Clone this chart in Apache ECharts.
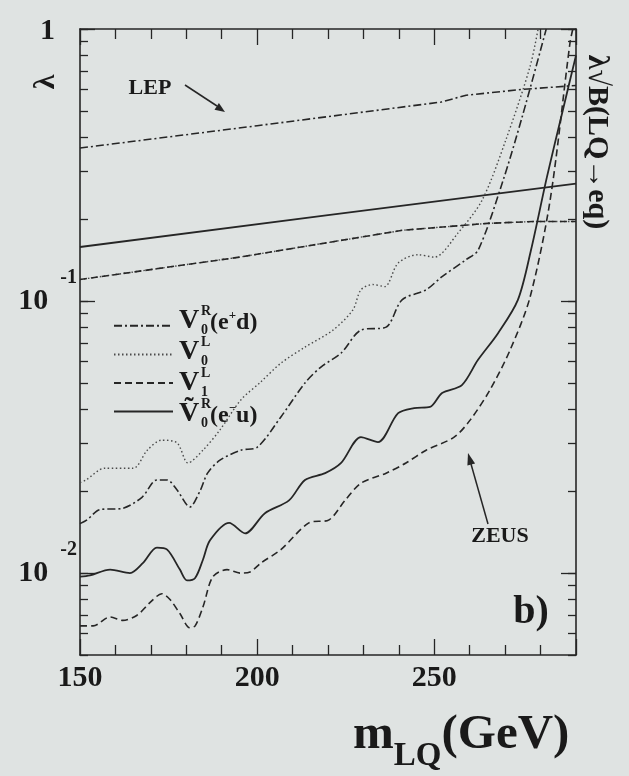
<!DOCTYPE html>
<html><head><meta charset="utf-8">
<script src="https://cdn.jsdelivr.net/npm/echarts@6/dist/echarts.min.js"></script>
<style>html,body{margin:0;padding:0;background:#dfe3e2;} #c{width:629px;height:776px;}</style>
</head><body><div id="c"></div>
<script>
// ---- tick values ----
const xTickLabels = [150, 200, 250];
const yTickMajor = [0.01, 0.1, 1];
const yTickMinor = [0.005,0.006,0.007,0.008,0.009,0.02,0.03,0.04,0.05,0.06,0.07,0.08,0.09,0.2,0.3,0.4,0.5,0.6,0.7,0.8,0.9];
const yTickAll = yTickMinor.concat(yTickMajor);

// ---- series names ----
const names = ['V0R(e+d)', 'V0L', 'V1L', '~V0R(e-u)'];

// ---- LEP limits [m_LQ, lambda] ----
const lepV0R = [[150,0.365],[200,0.441],[252,0.539],[259,0.571],[275,0.600],[290,0.620]];
const lepV0L = [[150,0.120],[195,0.145],[241,0.182],[265,0.193],[278,0.196],[290,0.196]];
const lepV1L = [[150,0.120],[195,0.145],[241,0.182],[265,0.193],[278,0.196],[290,0.196]];
const lepVt0R = [[150,0.158],[220,0.207],[290,0.270]];

// ---- ZEUS limits [m_LQ, lambda] ----
const zeusV0R = [[150,0.0152],[152,0.0157],[155.6,0.0171],[162,0.0173],[167.5,0.0190],[171.7,0.0220],[174.6,0.0220],[177.4,0.0202],[181,0.0175],[184,0.0202],[186,0.0233],[189.5,0.0260],[195.4,0.0283],[200,0.0290],[206.7,0.0375],[213.5,0.0500],[218,0.0572],[223.7,0.0644],[229.3,0.0782],[236.4,0.0802],[240.9,0.101],[247.7,0.110],[252.2,0.123],[259,0.142],[262.4,0.154],[269.2,0.272],[274.8,0.475],[281.6,1.0]];
const zeusV0L = [[150,0.0215],[151.7,0.0220],[157,0.0243],[165,0.0243],[169,0.0283],[173,0.0308],[177.4,0.0301],[180.5,0.0254],[184.7,0.0283],[189.5,0.0336],[195.4,0.0433],[201,0.0504],[206.7,0.0591],[213.5,0.0677],[221.4,0.0782],[227,0.0927],[229.3,0.110],[232.7,0.115],[236,0.113],[239.8,0.138],[245.4,0.148],[250,0.145],[256.7,0.178],[263.5,0.235],[270.2,0.391],[277,0.725],[279.3,1.0]];
const zeusV1L = [[150,0.0064],[153.7,0.0064],[158.5,0.0069],[162.1,0.0067],[166.1,0.0070],[169.8,0.0078],[173.1,0.0084],[175.4,0.0080],[178.2,0.0071],[181,0.0063],[182.5,0.0064],[184.7,0.0075],[187.5,0.0097],[191.5,0.0103],[195.2,0.0100],[198,0.0101],[201.1,0.0109],[206.7,0.0122],[214.6,0.0153],[220.3,0.0157],[224.8,0.0185],[229.3,0.0214],[236.4,0.0233],[242,0.0254],[247.7,0.0283],[255.6,0.0316],[260.1,0.0365],[265.7,0.0471],[271.4,0.0661],[277,0.103],[282.7,0.235],[288.3,0.889],[289.1,1.0]];
const zeusVt0R = [[150,0.0097],[152.8,0.0098],[158.5,0.0103],[164.1,0.0100],[167.8,0.0109],[171.7,0.0124],[174.6,0.0122],[178.2,0.0103],[180.2,0.0094],[182.5,0.0096],[184.7,0.0112],[186.7,0.0132],[192.1,0.0153],[196.6,0.0140],[202.2,0.0166],[209,0.0185],[213.5,0.0220],[219.2,0.0233],[223.7,0.0254],[229.3,0.0316],[234.1,0.0303],[239.8,0.0387],[244.3,0.0404],[248.8,0.0408],[252.2,0.0459],[257.8,0.0491],[262.3,0.0607],[268,0.0762],[273.6,0.101],[277.3,0.154],[281.8,0.286],[286.3,0.504],[290,0.80]];

const INK = '#262626';
const FONT = "'Liberation Serif', 'DejaVu Serif', serif";
const DOT = [1.5, 2.5];
const DASH = [7, 4];
const DASHDOT = [8, 3, 2, 3];

function mkSeries(name, data, dash, width, smooth, color) {
  return {
    name: name, type: 'line', data: data, symbol: 'none', showSymbol: false,
    smooth: smooth, clip: true, silent: true,
    lineStyle: { color: color || INK, width: width, type: dash }
  };
}

const chart = echarts.init(document.getElementById('c'), null, {renderer: 'canvas'});

function yLabel(v) {
  const e = Math.round(Math.log10(v));
  if (e === 0) return '{one|1}';
  return '{b|10}{e|' + e + '}';
}

const yBase = {
  type: 'log', min: 0.005, max: 1, splitLine: {show: false}
};

const option = {
  backgroundColor: '#dfe3e2',
  animation: false,
  grid: {left: 80, right: 53, top: 29, bottom: 121},
  xAxis: [
    {
      type: 'value', min: 150, max: 290, interval: 50, position: 'bottom',
      axisLine: {show: true, lineStyle: {color: INK, width: 1.6}},
      axisTick: {show: true, inside: true, length: 16, lineStyle: {color: INK, width: 1.3}},
      minorTick: {show: true, splitNumber: 5, length: 10, lineStyle: {color: INK, width: 1.3}},
      splitLine: {show: false},
      axisLabel: {
        show: true, margin: 8, color: '#1a1a1a', fontSize: 30, fontWeight: 'bold', fontFamily: FONT,
        formatter: function (v) { return xTickLabels.indexOf(v) >= 0 ? String(v) : ''; }
      }
    },
    {
      type: 'value', min: 150, max: 290, interval: 50, position: 'top',
      axisLine: {show: true, lineStyle: {color: INK, width: 1.6}},
      axisTick: {show: true, inside: true, length: 16, lineStyle: {color: INK, width: 1.3}},
      minorTick: {show: true, splitNumber: 5, length: 10, lineStyle: {color: INK, width: 1.3}},
      splitLine: {show: false},
      axisLabel: {show: false}
    }
  ],
  yAxis: [
    Object.assign({}, yBase, {
      position: 'left',
      axisLine: {show: true, lineStyle: {color: INK, width: 1.6}},
      axisTick: {show: true, inside: true, length: 8, customValues: yTickAll, lineStyle: {color: INK, width: 1.3}},
      axisLabel: {
        show: true, margin: 3, customValues: yTickMajor, formatter: yLabel, color: '#1a1a1a',
        rich: {
          one: {fontSize: 30, fontWeight: 'bold', fontFamily: FONT, color: '#1a1a1a', padding: [4, 22, 0, 0]},
          b: {fontSize: 30, fontWeight: 'bold', fontFamily: FONT, color: '#1a1a1a'},
          e: {fontSize: 20, fontWeight: 'bold', fontFamily: FONT, color: '#1a1a1a', padding: [0, 0, 46, 12]}
        }
      }
    }),
    Object.assign({}, yBase, {
      position: 'left',
      axisLine: {show: false},
      axisTick: {show: true, inside: true, length: 15, customValues: yTickMajor, lineStyle: {color: INK, width: 1.3}},
      axisLabel: {show: false}
    }),
    Object.assign({}, yBase, {
      position: 'right',
      axisLine: {show: true, lineStyle: {color: INK, width: 1.6}},
      axisTick: {show: true, inside: true, length: 8, customValues: yTickAll, lineStyle: {color: INK, width: 1.3}},
      axisLabel: {show: false}
    }),
    Object.assign({}, yBase, {
      position: 'right',
      axisLine: {show: false},
      axisTick: {show: true, inside: true, length: 15, customValues: yTickMajor, lineStyle: {color: INK, width: 1.3}},
      axisLabel: {show: false}
    })
  ],
  legend: {
    data: names, orient: 'vertical', left: 108, top: 316,
    itemWidth: 59, itemHeight: 12, itemGap: 19,
    formatter: function () { return ''; },
    textStyle: {fontSize: 12, lineHeight: 12},
    itemStyle: {opacity: 0},
    selectedMode: false
  },
  series: [
    mkSeries('LEP ' + names[0], lepV0R, DASHDOT, 1.6, false),
    mkSeries('LEP ' + names[1], lepV0L, DOT, 1.4, false, '#4a4a4a'),
    mkSeries('LEP ' + names[2], lepV1L, DASH, 1.6, false),
    mkSeries('LEP ' + names[3], lepVt0R, 'solid', 1.8, false),
    mkSeries(names[0], zeusV0R, DASHDOT, 1.6, 0.3),
    mkSeries(names[1], zeusV0L, DOT, 1.4, 0.3, '#4a4a4a'),
    mkSeries(names[2], zeusV1L, DASH, 1.6, 0.3),
    mkSeries(names[3], zeusVt0R, 'solid', 1.8, 0.3)
  ],
  graphic: {elements: []}
};

const TXT = '#1a1a1a';
function txt(x, y, text, size, extra) {
  return Object.assign({
    type: 'text', x: x, y: y, silent: true,
    style: {text: text, fill: TXT, font: 'bold ' + size + 'px ' + FONT,
      align: 'center', verticalAlign: 'middle', textAlign: 'center', textVerticalAlign: 'middle'}
  }, extra || {});
}
function leftTxt(x, y, text, size) {
  const t = txt(x, y, text, size);
  t.style.align = 'left'; t.style.textAlign = 'left';
  return t;
}
const G = option.graphic.elements;
// axis titles
G.push(txt(46, 82, 'λ', 30, {rotation: Math.PI / 2}));
G.push(txt(597, 142, 'λ√B(LQ→eq)', 30, {rotation: -Math.PI / 2}));
G.push({
  type: 'text', x: 353, y: 735, silent: true,
  style: {
    text: '{m|m}{s|LQ}{g|(GeV)}', align: 'left', verticalAlign: 'middle', textAlign: 'left', textVerticalAlign: 'middle',
    rich: {
      m: {fontSize: 49, fontWeight: 'bold', fontFamily: FONT, fill: TXT, color: TXT},
      s: {fontSize: 33, fontWeight: 'bold', fontFamily: FONT, fill: TXT, color: TXT, padding: [42, 0, 0, 0]},
      g: {fontSize: 49, fontWeight: 'bold', fontFamily: FONT, fill: TXT, color: TXT}
    }
  }
});
// annotations
G.push(txt(150, 88, 'LEP', 22));
G.push(txt(500, 536, 'ZEUS', 22));
G.push(txt(531, 613, 'b)', 40));
G.push({type: 'line', silent: true, shape: {x1: 185, y1: 85, x2: 217, y2: 106}, style: {stroke: INK, lineWidth: 1.5}});
G.push({type: 'polygon', silent: true, shape: {points: [[225, 112], [214.5, 109.7], [218.9, 103.1]]}, style: {fill: INK}});
G.push({type: 'line', silent: true, shape: {x1: 488, y1: 524, x2: 471, y2: 464}, style: {stroke: INK, lineWidth: 1.5}});
G.push({type: 'polygon', silent: true, shape: {points: [[468, 453], [475.1, 463.4], [467.4, 465.6]]}, style: {fill: INK}});
// legend labels
const legY = [322, 353, 384, 415];
const legMain = ['V', 'V', 'V', 'Ṽ'];
const legSup = ['R', 'L', 'L', 'R'];
const legSub = ['0', '0', '1', '0'];
const legTail = [['(e', '+', 'd)'], null, null, ['(e', '−', 'u)']];
for (let k = 0; k < 4; k++) {
  const y = legY[k];
  G.push(leftTxt(179, y - 1, legMain[k], 28));
  G.push(leftTxt(201, y - 11, legSup[k], 14));
  G.push(leftTxt(201, y + 8, legSub[k], 14));
  if (legTail[k]) {
    G.push({
      type: 'text', x: 210, y: y + 1, silent: true,
      style: {
        text: '{p|' + legTail[k][0] + '}{s|' + legTail[k][1] + '}{p|' + legTail[k][2] + '}',
        align: 'left', verticalAlign: 'middle', textAlign: 'left', textVerticalAlign: 'middle',
        rich: {
          p: {fontSize: 24, fontWeight: 'bold', fontFamily: FONT, fill: TXT, color: TXT},
          s: {fontSize: 13, fontWeight: 'bold', fontFamily: FONT, fill: TXT, color: TXT, padding: [0, 0, 14, 0]}
        }
      }
    });
  }
}

chart.setOption(option);
</script>
</body></html>
